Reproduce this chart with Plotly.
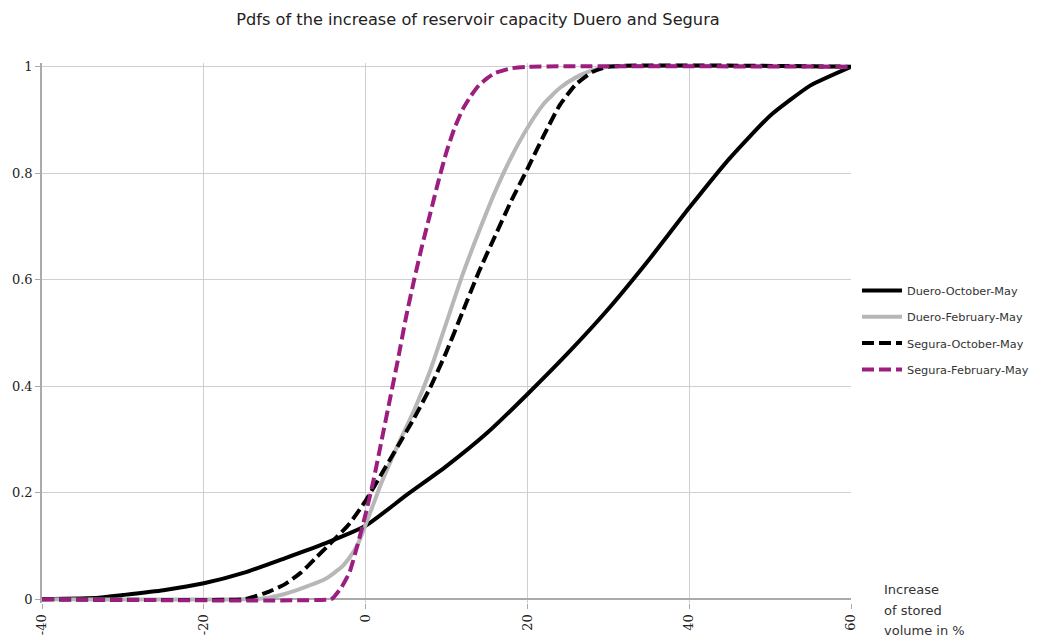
import plotly.graph_objects as go

title_text = "Pdfs of the increase of reservoir capacity Duero and Segura"

# Duero-October-May
duero_oct_x = [-40, -33, -30, -25, -20, -15, -10, -5, 0, 5, 10, 15, 20, 25, 30, 35, 40, 45, 50, 55, 60]
duero_oct_y = [0, 0.003, 0.008, 0.017, 0.03, 0.05, 0.077, 0.105, 0.138, 0.195, 0.25, 0.312, 0.385, 0.462, 0.545, 0.637, 0.735, 0.828, 0.908, 0.965, 1.0]

# Duero-February-May
duero_feb_x = [-40, -15, -12, -10, -8, -5, -3, -2, -1, 0, 1, 2, 4, 6, 8, 10, 12, 14, 16, 18, 20, 22, 24, 26, 28, 30, 60]
duero_feb_y = [0, 0, 0.003, 0.01, 0.02, 0.038, 0.06, 0.078, 0.102, 0.14, 0.18, 0.22, 0.29, 0.355, 0.43, 0.52, 0.61, 0.69, 0.765, 0.83, 0.885, 0.93, 0.96, 0.98, 0.993, 1.0, 1.0]

# Segura-October-May
segura_oct_x = [-40, -15, -14, -12, -10, -8, -6, -4, -2, 0, 2, 4, 6, 8, 10, 12, 14, 16, 18, 20, 22, 24, 26, 28, 30, 60]
segura_oct_y = [0, 0, 0.004, 0.014, 0.028, 0.05, 0.08, 0.11, 0.142, 0.185, 0.236, 0.288, 0.34, 0.398, 0.465, 0.54, 0.615, 0.682, 0.748, 0.808, 0.87, 0.928, 0.967, 0.99, 1.0, 1.0]

# Segura-February-May
segura_feb_x = [-40, -4.3, -4, -3, -2, -1, 0, 1, 2, 3, 4, 5, 6, 7, 8, 9, 10, 11, 12, 13, 14, 15, 16, 18, 20, 60]
segura_feb_y = [0, 0, 0.003, 0.022, 0.05, 0.102, 0.16, 0.225, 0.3, 0.375, 0.45, 0.53, 0.6, 0.665, 0.725, 0.785, 0.84, 0.885, 0.92, 0.945, 0.965, 0.978, 0.988, 0.997, 1.0, 1.0]

x_ticks = [-40, -20, 0, 20, 40, 60]
y_ticks = [0, 0.2, 0.4, 0.6, 0.8, 1]
y_tick_labels = ["0", "0.2", "0.4", "0.6", "0.8", "1"]
axis_title_lines = ["Increase", "of stored", "volume in %"]

series = [
    ("Duero-October-May", duero_oct_x, duero_oct_y, "#000000", "solid"),
    ("Duero-February-May", duero_feb_x, duero_feb_y, "#b7b7b7", "solid"),
    ("Segura-October-May", segura_oct_x, segura_oct_y, "#000000", "12px,5px"),
    ("Segura-February-May", segura_feb_x, segura_feb_y, "#9c1f7f", "12px,5px"),
]

fig = go.Figure()
for i, (name, xs, ys, col, dash) in enumerate(series):
    fig.add_trace(go.Scatter(
        x=xs, y=ys, name=name, mode="lines",
        line=dict(color=col, width=4, dash=dash, shape="spline", smoothing=0.5),
        legendgroup=f"g{i}",
    ))

W, H = 1037, 637
L, R, T, B = 42, 851, 63, 603

def px_x(p):
    return (p - L) / (R - L)

def px_y(p):
    return (B - p) / (B - T)

fig.update_layout(
    width=W, height=H,
    margin=dict(l=L, r=W - R, t=T, b=H - B, autoexpand=False),
    paper_bgcolor="white", plot_bgcolor="white",
    title=dict(text=title_text, x=px_x(478), xref="paper", xanchor="center",
               y=1 - 19 / H, yref="container", yanchor="middle",
               font=dict(family="DejaVu Sans", size=16.2, color="#222222")),
    showlegend=True,
    legend=dict(x=px_x(857), xanchor="left", y=px_y(276), yanchor="top", yref="paper",
                font=dict(family="DejaVu Sans", size=11.3, color="#333333"),
                tracegroupgap=7.3, itemwidth=40, bgcolor="rgba(0,0,0,0)"),
    xaxis=dict(range=[-40, 60], tickvals=x_ticks, ticktext=[str(v) for v in x_ticks],
               tickangle=-90, showgrid=True, gridcolor="#cfcfcf", gridwidth=1,
               zeroline=False, showline=False, ticks="outside", ticklen=5, tickcolor="#aaaaaa",
               automargin=False,
               tickfont=dict(family="DejaVu Serif", size=13, color="#222222")),
    yaxis=dict(range=[-0.007, 1.007], tickvals=y_ticks, ticktext=y_tick_labels,
               showgrid=True, gridcolor="#cfcfcf", gridwidth=1,
               zeroline=True, zerolinecolor="#aaaaaa", zerolinewidth=1.5,
               showline=True, linecolor="#aaaaaa", linewidth=1.5,
               ticks="outside", ticklen=5, tickcolor="#aaaaaa",
               automargin=False,
               tickfont=dict(family="DejaVu Serif", size=13, color="#222222")),
)

for line_text, ypix in zip(axis_title_lines, [589, 610, 630]):
    fig.add_annotation(
        text=line_text, x=px_x(882), xref="paper", y=px_y(ypix), yref="paper",
        showarrow=False, align="left", xanchor="left", yanchor="middle",
        font=dict(family="DejaVu Sans", size=13, color="#333333"),
    )

fig.write_html("out.html", config={"displayModeBar": False},
               post_script="document.body.style.margin='0';document.body.style.overflow='hidden';")
